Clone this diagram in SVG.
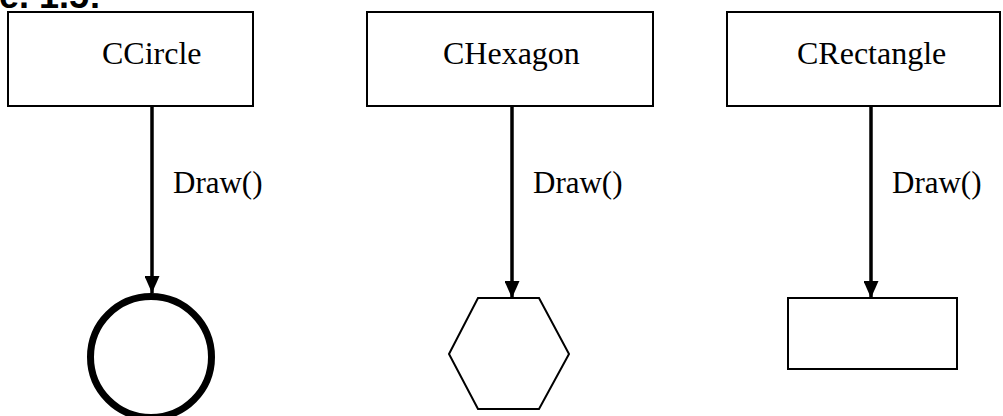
<svg xmlns="http://www.w3.org/2000/svg" width="1003" height="416" viewBox="0 0 1003 416">
<style>
.box{fill:#fff;stroke:#000;stroke-width:2}
.lbl{font-family:"Liberation Serif","Times New Roman",serif;font-size:32px;fill:#000}
.dl{font-family:"Liberation Serif","Times New Roman",serif;font-size:31px;fill:#000}
.conn{stroke:#000;stroke-width:3.5;fill:none}
.shape{fill:#fff;stroke:#000;stroke-width:2}
</style>
<defs>
<marker id="ah" viewBox="0 0 17 15" refX="17" refY="7.5" markerWidth="17" markerHeight="15" markerUnits="userSpaceOnUse" orient="auto">
<path d="M0,0 L17,7.5 L0,15 Z" fill="#000"/>
</marker>
</defs>
<rect width="1003" height="416" fill="#fff"/>
<text x="-1" y="8" style="font-family:'Liberation Sans',Arial,sans-serif;font-size:36px;font-weight:bold">e. 1.5:</text>
<g id="node-ccircle">
<rect class="box" x="8" y="12" width="245" height="94"/>
<text class="lbl" x="102" y="64">CCircle</text>
</g>
<g id="node-chexagon">
<rect class="box" x="367" y="12" width="286" height="94"/>
<text class="lbl" x="443" y="64">CHexagon</text>
</g>
<g id="node-crectangle">
<rect class="box" x="727" y="12" width="273" height="94"/>
<text class="lbl" x="797" y="64">CRectangle</text>
</g>
<g id="node-circle">
<circle cx="151" cy="357" r="60.5" fill="#fff" stroke="#000" stroke-width="7"/>
</g>
<g id="node-hexagon">
<polygon class="shape" points="478,298 539,298 569,354 539,409 478,409 449,354"/>
</g>
<g id="node-rectangle">
<rect class="shape" x="788" y="298" width="169" height="71"/>
</g>
<g id="connectors">
<line class="conn" x1="152" y1="106" x2="152" y2="293" marker-end="url(#ah)"/>
<line class="conn" x1="512" y1="106" x2="512" y2="298" marker-end="url(#ah)"/>
<line class="conn" x1="871" y1="106" x2="871" y2="298" marker-end="url(#ah)"/>
<text class="dl" x="173" y="193">Draw()</text>
<text class="dl" x="533" y="193">Draw()</text>
<text class="dl" x="892" y="193">Draw()</text>
</g>
</svg>
